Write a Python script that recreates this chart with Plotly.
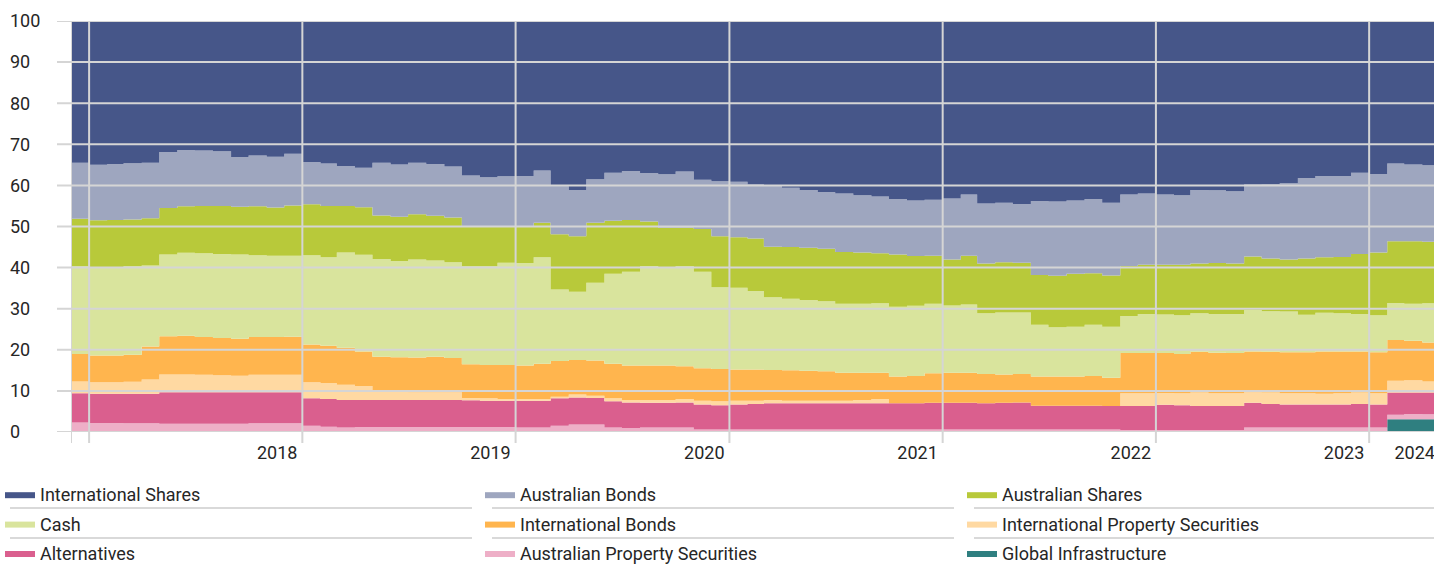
import plotly.graph_objects as go
import pandas as pd

# ---------------- data ----------------
# monthly periods (start of each month), Dec 2017 .. Apr 2024
months = pd.date_range("2017-12-01", periods=77, freq="MS").strftime("%Y-%m-%d").tolist()
period_end = "2024-05-01"          # end of the last monthly period

global_infra = [0.0, 0.0, 0.0, 0.0, 0.0, 0.0, 0.0, 0.0, 0.0, 0.0, 0.0, 0.0, 0.0,
                0.0, 0.0, 0.0, 0.0, 0.0, 0.0, 0.0, 0.0, 0.0, 0.0, 0.0, 0.0, 0.0,
                0.0, 0.0, 0.0, 0.0, 0.0, 0.0, 0.0, 0.0, 0.0, 0.0, 0.0, 0.0, 0.0,
                0.0, 0.0, 0.0, 0.0, 0.0, 0.0, 0.0, 0.0, 0.0, 0.0, 0.0, 0.0, 0.0,
                0.0, 0.0, 0.0, 0.0, 0.0, 0.0, 0.0, 0.0, 0.0, 0.0, 0.0, 0.0, 0.0,
                0.0, 0.0, 0.0, 0.0, 0.0, 0.0, 0.0, 0.0, 0.0, 3.1, 3.1, 3.1]

aus_property = [2.3, 2.2, 2.2, 2.1, 2.1, 2.0, 2.0, 2.0, 2.0, 2.0, 2.1, 2.1, 2.1,
                1.5, 1.3, 1.1, 1.2, 1.2, 1.2, 1.2, 1.2, 1.2, 1.2, 1.2, 1.2, 1.1,
                1.1, 1.5, 1.8, 1.8, 1.1, 1.0, 1.1, 1.1, 1.1, 0.6, 0.6, 0.6, 0.6,
                0.6, 0.6, 0.6, 0.6, 0.6, 0.6, 0.6, 0.6, 0.6, 0.6, 0.6, 0.6, 0.6,
                0.6, 0.6, 0.6, 0.6, 0.6, 0.6, 0.6, 0.5, 0.5, 0.5, 0.5, 0.5, 0.5,
                0.5, 1.1, 1.1, 1.1, 1.1, 1.1, 1.1, 1.1, 1.1, 1.1, 1.3, 1.2]

alternatives = [7.1, 7.1, 7.1, 7.2, 7.2, 7.7, 7.7, 7.7, 7.7, 7.7, 7.6, 7.6, 7.6,
                6.7, 6.7, 6.7, 6.6, 6.6, 6.6, 6.6, 6.6, 6.6, 6.5, 6.4, 6.4, 6.5,
                6.5, 6.7, 6.6, 6.5, 6.4, 6.2, 6.0, 6.0, 6.1, 6.1, 5.9, 6.1, 6.2,
                6.4, 6.4, 6.4, 6.4, 6.4, 6.4, 6.4, 6.4, 6.4, 6.5, 6.5, 6.5, 6.4,
                6.5, 6.6, 5.8, 5.8, 5.8, 5.8, 5.7, 5.8, 5.8, 6.1, 6.0, 5.8, 5.8,
                5.8, 6.0, 5.7, 5.6, 5.6, 5.6, 5.6, 5.7, 5.6, 5.4, 5.2, 5.3]

intl_property = [2.9, 2.8, 2.8, 2.9, 3.5, 4.3, 4.3, 4.2, 4.1, 4.0, 4.2, 4.2, 4.2,
                 3.9, 3.9, 3.7, 3.4, 2.0, 2.0, 1.9, 1.9, 1.9, 0.6, 0.6, 0.4, 0.4,
                 0.4, 0.4, 0.7, 0.5, 0.7, 0.6, 0.7, 0.7, 0.8, 0.9, 1.0, 0.9, 0.8,
                 0.8, 0.6, 0.6, 0.6, 0.6, 0.8, 1.0, 0.0, 0.0, 0.0, 0.0, 0.0, 0.0,
                 0.0, 0.0, 0.0, 0.0, 0.0, 0.0, 0.0, 3.1, 3.1, 2.9, 2.9, 3.3, 3.1,
                 3.1, 2.6, 2.8, 2.7, 2.7, 2.6, 2.7, 2.8, 2.7, 2.9, 3.0, 2.7]

intl_bonds = [6.7, 6.5, 6.5, 6.6, 8.0, 9.3, 9.4, 9.2, 9.1, 9.0, 9.2, 9.2, 9.3,
              9.2, 9.1, 9.0, 8.4, 8.5, 8.4, 8.4, 8.6, 8.3, 8.2, 8.1, 8.3, 8.2,
              8.6, 8.7, 8.4, 8.6, 8.4, 8.4, 8.4, 8.4, 8.0, 7.9, 7.8, 7.6, 7.6,
              7.3, 7.4, 7.3, 7.2, 6.8, 6.6, 6.4, 6.5, 6.6, 7.2, 7.3, 7.3, 7.1,
              6.9, 6.9, 7.1, 7.1, 7.1, 7.2, 6.9, 9.8, 9.8, 9.7, 9.6, 9.9, 9.9,
              9.8, 9.9, 9.9, 10.0, 10.0, 10.3, 10.2, 10.0, 10.0, 9.9, 9.6, 9.5]

cash = [21.3, 21.5, 21.5, 21.5, 19.7, 19.9, 20.2, 20.4, 20.4, 20.5, 19.9, 19.8, 19.7,
        21.7, 21.5, 23.2, 23.5, 23.8, 23.4, 23.9, 23.4, 23.3, 23.8, 24.0, 24.9, 24.9,
        25.9, 17.4, 16.6, 18.9, 21.9, 22.8, 24.2, 23.9, 24.3, 23.5, 19.9, 19.9, 19.1,
        17.7, 17.4, 17.2, 17.0, 16.8, 16.8, 16.9, 17.0, 17.1, 16.9, 16.4, 16.6, 14.8,
        15.1, 15.0, 12.6, 12.0, 12.1, 12.5, 12.4, 9.0, 9.5, 9.4, 9.4, 9.4, 9.4,
        9.5, 10.1, 9.9, 9.9, 9.1, 9.4, 9.3, 9.1, 9.0, 9.0, 9.0, 9.5]

aus_shares = [11.6, 11.4, 11.5, 11.4, 11.5, 11.3, 11.3, 11.5, 11.7, 11.6, 11.9, 11.7, 12.2,
              12.4, 12.5, 11.3, 11.6, 10.6, 10.8, 11.0, 10.9, 10.9, 9.8, 9.8, 8.9, 9.0,
              8.4, 13.4, 13.5, 14.6, 12.9, 12.6, 10.8, 9.6, 9.4, 10.4, 12.4, 12.3, 12.8,
              12.3, 12.6, 12.7, 12.8, 12.6, 12.5, 12.2, 12.7, 12.1, 11.7, 11.2, 11.9, 12.1,
              12.2, 12.1, 12.1, 12.5, 12.9, 12.5, 12.5, 12.2, 12.0, 12.1, 12.3, 12.1, 12.4,
              12.3, 13.0, 12.8, 12.7, 13.7, 13.5, 13.7, 14.6, 15.3, 15.0, 15.2, 15.0]

aus_bonds = [13.6, 13.5, 13.6, 13.7, 13.5, 13.6, 13.7, 13.5, 13.3, 12.1, 12.4, 12.4, 12.6,
             10.3, 10.3, 9.7, 9.6, 12.8, 12.7, 12.5, 12.6, 12.4, 12.3, 11.9, 12.1, 12.2,
             12.7, 11.7, 11.3, 10.6, 11.7, 11.9, 11.8, 13.0, 13.7, 12.0, 13.4, 13.5, 13.1,
             14.8, 14.4, 14.1, 13.8, 14.2, 13.9, 13.8, 13.5, 13.5, 13.6, 14.8, 14.9, 14.6,
             14.5, 14.3, 18.0, 18.1, 17.8, 18.1, 17.7, 17.4, 17.3, 17.1, 16.9, 17.9, 17.7,
             17.6, 17.5, 18.1, 18.5, 19.6, 19.8, 19.7, 19.8, 19.1, 18.9, 18.7, 18.6]

intl_shares = [34.5, 35.0, 34.8, 34.6, 34.5, 31.9, 31.4, 31.5, 31.7, 33.1, 32.7, 33.0, 32.3,
               34.3, 34.7, 35.3, 35.7, 34.5, 34.9, 34.5, 34.8, 35.4, 37.6, 38.0, 37.8, 37.7,
               36.4, 40.2, 41.1, 38.5, 36.9, 36.5, 37.0, 37.3, 36.6, 38.6, 39.0, 39.1, 39.8,
               40.1, 40.6, 41.1, 41.6, 42.0, 42.4, 42.7, 43.3, 43.7, 43.5, 43.2, 42.2, 44.4,
               44.2, 44.5, 43.8, 43.9, 43.7, 43.3, 44.2, 42.2, 42.0, 42.2, 42.4, 41.1, 41.2,
               41.4, 39.8, 39.7, 39.5, 38.2, 37.7, 37.7, 36.9, 37.2, 34.7, 34.9, 35.1]

y_ticks = [0, 10, 20, 30, 40, 50, 60, 70, 80, 90, 100]
grid_dates = ["2017-12-01", "2018-01-01", "2019-01-01", "2020-01-01", "2021-01-01",
              "2022-01-01", "2023-01-01", "2024-01-01"]
year_label_dates = ["2018-11-19", "2019-11-19", "2020-11-19", "2021-11-19",
                    "2022-11-19", "2023-11-19", "2024-03-19"]
year_labels = ["2018", "2019", "2020", "2021", "2022", "2023", "2024"]
x_range = ["2017-12-01", "2024-04-21"]

# stacking order bottom -> top ; (name, values, colour, legend column, legend row)
series = [
    ("Global Infrastructure", global_infra, "#2f7f80", "legend3", 3),
    ("Australian Property Securities", aus_property, "#eeafc7", "legend2", 3),
    ("Alternatives", alternatives, "#da5f8e", "legend", 3),
    ("International Property Securities", intl_property, "#ffd9a2", "legend3", 2),
    ("International Bonds", intl_bonds, "#ffb54e", "legend2", 2),
    ("Cash", cash, "#d9e49d", "legend", 2),
    ("Australian Shares", aus_shares, "#b8c93a", "legend3", 1),
    ("Australian Bonds", aus_bonds, "#9ea6bf", "legend2", 1),
    ("International Shares", intl_shares, "#465689", "legend", 1),
]

FONT = "Roboto, Liberation Sans, Arial, sans-serif"
GRID = "#d5d5d5"
TEXT = "#262626"
FS = 18

fig = go.Figure()
x_edges = months + [period_end]
for name, vals, col, leg, rank in series:
    fig.add_trace(go.Scatter(
        x=x_edges, y=vals + [vals[-1]],
        name=name, stackgroup="alloc", mode="lines",
        line=dict(width=0, shape="hv"), fillcolor=col,
        legend=leg, legendrank=rank, legendgroup=name,
        hovertemplate=name + ": %{y:.1f}%<extra></extra>",
    ))

W, H = 1434, 565
ML, MR, MT, MB = 71, 0, 21, 133
pw, ph = W - ML - MR, H - MT - MB

shapes = []
# horizontal gridlines (drawn above the areas, with stub to the left)
for v in y_ticks:
    shapes.append(dict(type="line", xref="paper", yref="y", x0=-14 / pw, x1=1, y0=v, y1=v,
                       line=dict(color=GRID, width=2), layer="above"))
# vertical gridlines with stub below
for d in grid_dates:
    shapes.append(dict(type="line", xref="x", yref="paper", x0=d, x1=d, y0=-11 / ph, y1=1,
                       line=dict(color=GRID, width=2), layer="above"))
# legend row separators
col_spans = [(10, 472), (492, 954), (974, 1434)]
for (a, b) in col_spans:
    for py in (508, 538):
        shapes.append(dict(type="line", xref="paper", yref="paper",
                           x0=(a - ML) / pw, x1=(b - ML) / pw,
                           y0=(H - MB - py) / ph, y1=(H - MB - py) / ph,
                           line=dict(color="#d9d9d9", width=2)))

leg_common = dict(orientation="v", xanchor="left", yanchor="top",
                  xref="container", yref="container",
                  y=1 - 476 / H, bgcolor="rgba(0,0,0,0)", borderwidth=0,
                  font=dict(family=FONT, size=FS, color=TEXT), itemwidth=30,
                  tracegroupgap=3, itemclick=False, itemdoubleclick=False)

fig.update_layout(
    width=W, height=H,
    margin=dict(l=ML, r=MR, t=MT, b=MB, pad=0, autoexpand=False),
    paper_bgcolor="white", plot_bgcolor="white",
    font=dict(family=FONT, size=FS, color=TEXT),
    showlegend=True,
    legend=dict(leg_common, x=0.0),
    legend2=dict(leg_common, x=480 / W),
    legend3=dict(leg_common, x=962 / W),
    xaxis=dict(type="date", range=x_range, showgrid=False, zeroline=False, showline=False,
               tickvals=year_label_dates, ticktext=year_labels, ticks="",
               tickfont=dict(family=FONT, size=FS, color=TEXT), ticklabelstandoff=8,
               ticklabeloverflow="allow", fixedrange=True),
    yaxis=dict(range=[0, 100], tickvals=y_ticks, showgrid=False, zeroline=False,
               showline=False, ticks="", side="right", anchor="free", position=0,
               ticklabelstandoff=-62, ticklabeloverflow="allow",
               tickfont=dict(family=FONT, size=FS, color=TEXT), fixedrange=True),
    shapes=shapes,
    hovermode="closest",
)

fig.write_html("out.html", config={"displayModeBar": False},
               post_script="document.body.style.margin='0px';")
